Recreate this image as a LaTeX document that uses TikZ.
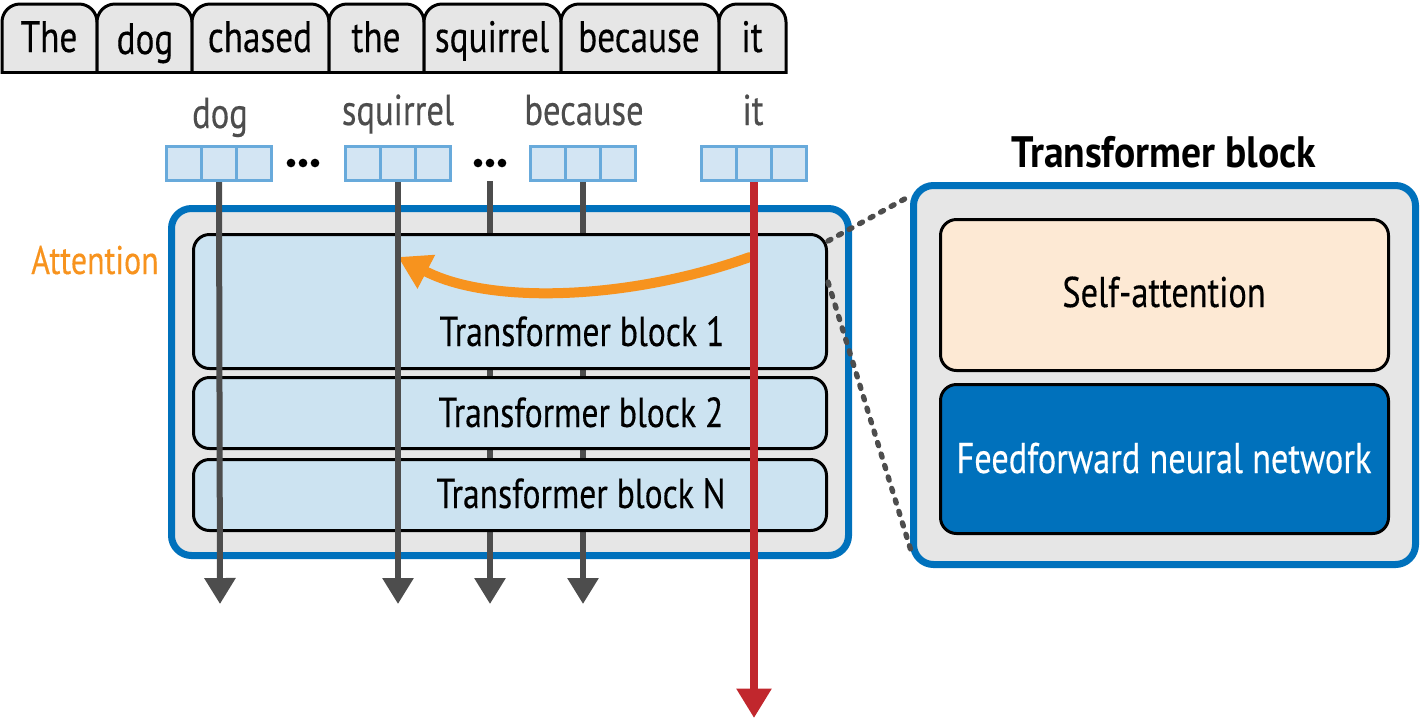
\documentclass[tikz,border=0pt]{standalone}
\usepackage{fontspec}
\setmainfont[FakeStretch=0.8,FakeBold=0.3]{PT Sans}
\newfontfamily\titlefont[FakeStretch=0.9]{PT Sans}
\usetikzlibrary{arrows.meta}
\definecolor{tabgray}{HTML}{E6E6E6}
\definecolor{cellfill}{HTML}{D3E5F3}
\definecolor{celldraw}{HTML}{68AADB}
\definecolor{lblgray}{HTML}{4D4D4D}
\definecolor{tblue}{HTML}{0071BC}
\definecolor{blockfill}{HTML}{CCE3F1}
\definecolor{tred}{HTML}{C1272D}
\definecolor{torange}{HTML}{F7931E}
\definecolor{peach}{HTML}{FDE9D4}
\begin{document}
\begin{tikzpicture}[x=0.75pt,y=-0.75pt,
  tabshape/.style={fill=tabgray,draw=black,line width=2.25pt,rounded corners=13.5pt},
  tabtext/.style={anchor=base,inner sep=0pt,font=\fontsize{33}{38}\selectfont},
  lbl/.style={anchor=base,inner sep=0pt,text=lblgray,font=\fontsize{32.4}{38}\selectfont},
  cell/.style={draw=celldraw,fill=cellfill,line width=2.25pt,minimum width=26.25pt,minimum height=25.5pt,inner sep=0pt},
  dotmark/.style={circle,fill=black,inner sep=0pt,minimum size=6.5pt},
  bigbox/.style={draw=tblue,fill=tabgray,line width=5.25pt,rounded corners=15pt},
  blockbox/.style={draw=black,fill=blockfill,line width=2.25pt,rounded corners=12pt},
  btext/.style={anchor=base,inner sep=0pt,font=\fontsize{31.5}{36}\selectfont},
  ptext/.style={anchor=base,inner sep=0pt,font=\fontsize{32.2}{38}\selectfont},
  flow/.style={draw=lblgray,line width=4.5pt,-{Triangle[length=19.5pt,width=22.5pt]}},
  redflow/.style={draw=tred,line width=5.5pt,-{Triangle[length=22pt,width=25pt]}},
  zoomline/.style={draw=lblgray,line width=4pt,dash pattern=on 2.5pt off 6.5pt,line cap=round}
]
\useasboundingbox (0,0) rectangle (1421,719);

% ---- token tabs
\begin{scope}
\clip (0,0) rectangle (1421,73.5);
\draw[tabshape] (2,95) -- (2,4) -- (97,4) -- (97,95);
\draw[tabshape] (97,95) -- (97,4) -- (192,4) -- (192,95);
\draw[tabshape] (192,95) -- (192,4) -- (329,4) -- (329,95);
\draw[tabshape] (329,95) -- (329,4) -- (424,4) -- (424,95);
\draw[tabshape] (424,95) -- (424,4) -- (561,4) -- (561,95);
\draw[tabshape] (561,95) -- (561,4) -- (719,4) -- (719,95);
\draw[tabshape] (719,95) -- (719,4) -- (786,4) -- (786,95);
\end{scope}
\draw[line width=2.25pt] (2,72) -- (786,72);
\node[tabtext] (tThe) at (49,52) {The};
\node[tabtext] (tdog) at (145,54) {dog};
\node[tabtext] (tchased) at (260,52) {chased};
\node[tabtext] (tthe) at (376,52) {the};
\node[tabtext] (tsquirrel) at (492,52) {squirrel};
\node[tabtext] (tbecause) at (639,52) {because};
\node[tabtext] (tit) at (752,52) {it};

% ---- labels above vectors
\node[lbl] (ldog) at (220,128) {dog};
\node[lbl] (lsquirrel) at (398,125) {squirrel};
\node[lbl] (lbecause) at (584,125) {because};
\node[lbl] (lit) at (753,125) {it};

% ---- vectors
\foreach \nm/\cx in {dog/219,sq/398,be/583,it/754}{
  \node[cell] (\nm1) at (\cx-35,163.5) {};
  \node[cell] (\nm3) at (\cx+35,163.5) {};
  \node[cell] (\nm2) at (\cx,163.5) {};
}
\foreach \i/\x in {1/291,2/303,3/315}{\node[dotmark] (da\i) at (\x,163) {};}
\foreach \i/\x in {1/478,2/490,3/502}{\node[dotmark] (db\i) at (\x,163) {};}

% ---- left big box
\draw[bigbox] (171.5,208.5) rectangle (848.5,555.5);

% end coordinates
\coordinate (s490) at (490,181);
\coordinate (e220) at (220,604);
\coordinate (e398) at (398,604);
\coordinate (e490) at (490,604);
\coordinate (e583) at (583,604);
\coordinate (e754) at (754,718);

\draw[flow] (s490) -- (e490);
\draw[flow] (be2.south) -- (e583);

% ---- blocks
\draw[blockbox] (193.5,234.5) rectangle (826.5,368.5);
\draw[blockbox] (193.5,377.5) rectangle (826.5,448.5);
\draw[blockbox] (193.5,459.5) rectangle (826.5,530.5);
\node[btext] (b1) at (582,346) {Transformer block 1};
\node[btext] (b2) at (581,427) {Transformer block 2};
\node[btext] (bN) at (581,508) {Transformer block N};

% ---- attention arrow
\coordinate (attS) at (750,257);
\coordinate (attE) at (398,257);
\draw[torange,line width=7.5pt,line cap=round,-{Triangle[length=24pt,width=27pt]}]
  (attS) .. controls (630,300) and (490,305) .. (attE);
\node[anchor=base,inner sep=0pt,text=torange,font=\fontsize{30}{34}\selectfont] (att) at (95,274) {Attention};

% ---- flows on top
\draw[flow] (dog2.south) -- (e220);
\draw[flow] (sq2.south) -- (e398);
\draw[redflow] (it2.south) -- (e754);

% ---- right panel
\node[anchor=base,inner sep=0pt,font=\titlefont\bfseries\fontsize{33}{38}\selectfont] (title) at (1164,167) {Transformer block};
\draw[bigbox] (913.5,185.5) rectangle (1415.5,564.5);
\node[draw=black,fill=peach,line width=2.25pt,rounded corners=12pt,minimum width=336pt,minimum height=113.25pt,inner sep=0pt] (sa) at (1164.5,295) {};
\node[ptext] (satext) at (1164,307) {Self-attention};
\node[draw=black,fill=tblue,line width=2.25pt,rounded corners=12pt,minimum width=336pt,minimum height=111.75pt,inner sep=0pt] (ff) at (1164.5,459) {};
\node[ptext,text=white] (fftext) at (1164,473) {Feedforward neural network};

% ---- zoom lines
\coordinate (z1a) at (828,241);
\coordinate (z1b) at (910,196);
\coordinate (z2a) at (828,282);
\coordinate (z2b) at (912,554);
\draw[zoomline] (z1a) -- (z1b);
\draw[zoomline] (z2a) -- (z2b);
\end{tikzpicture}
\end{document}
